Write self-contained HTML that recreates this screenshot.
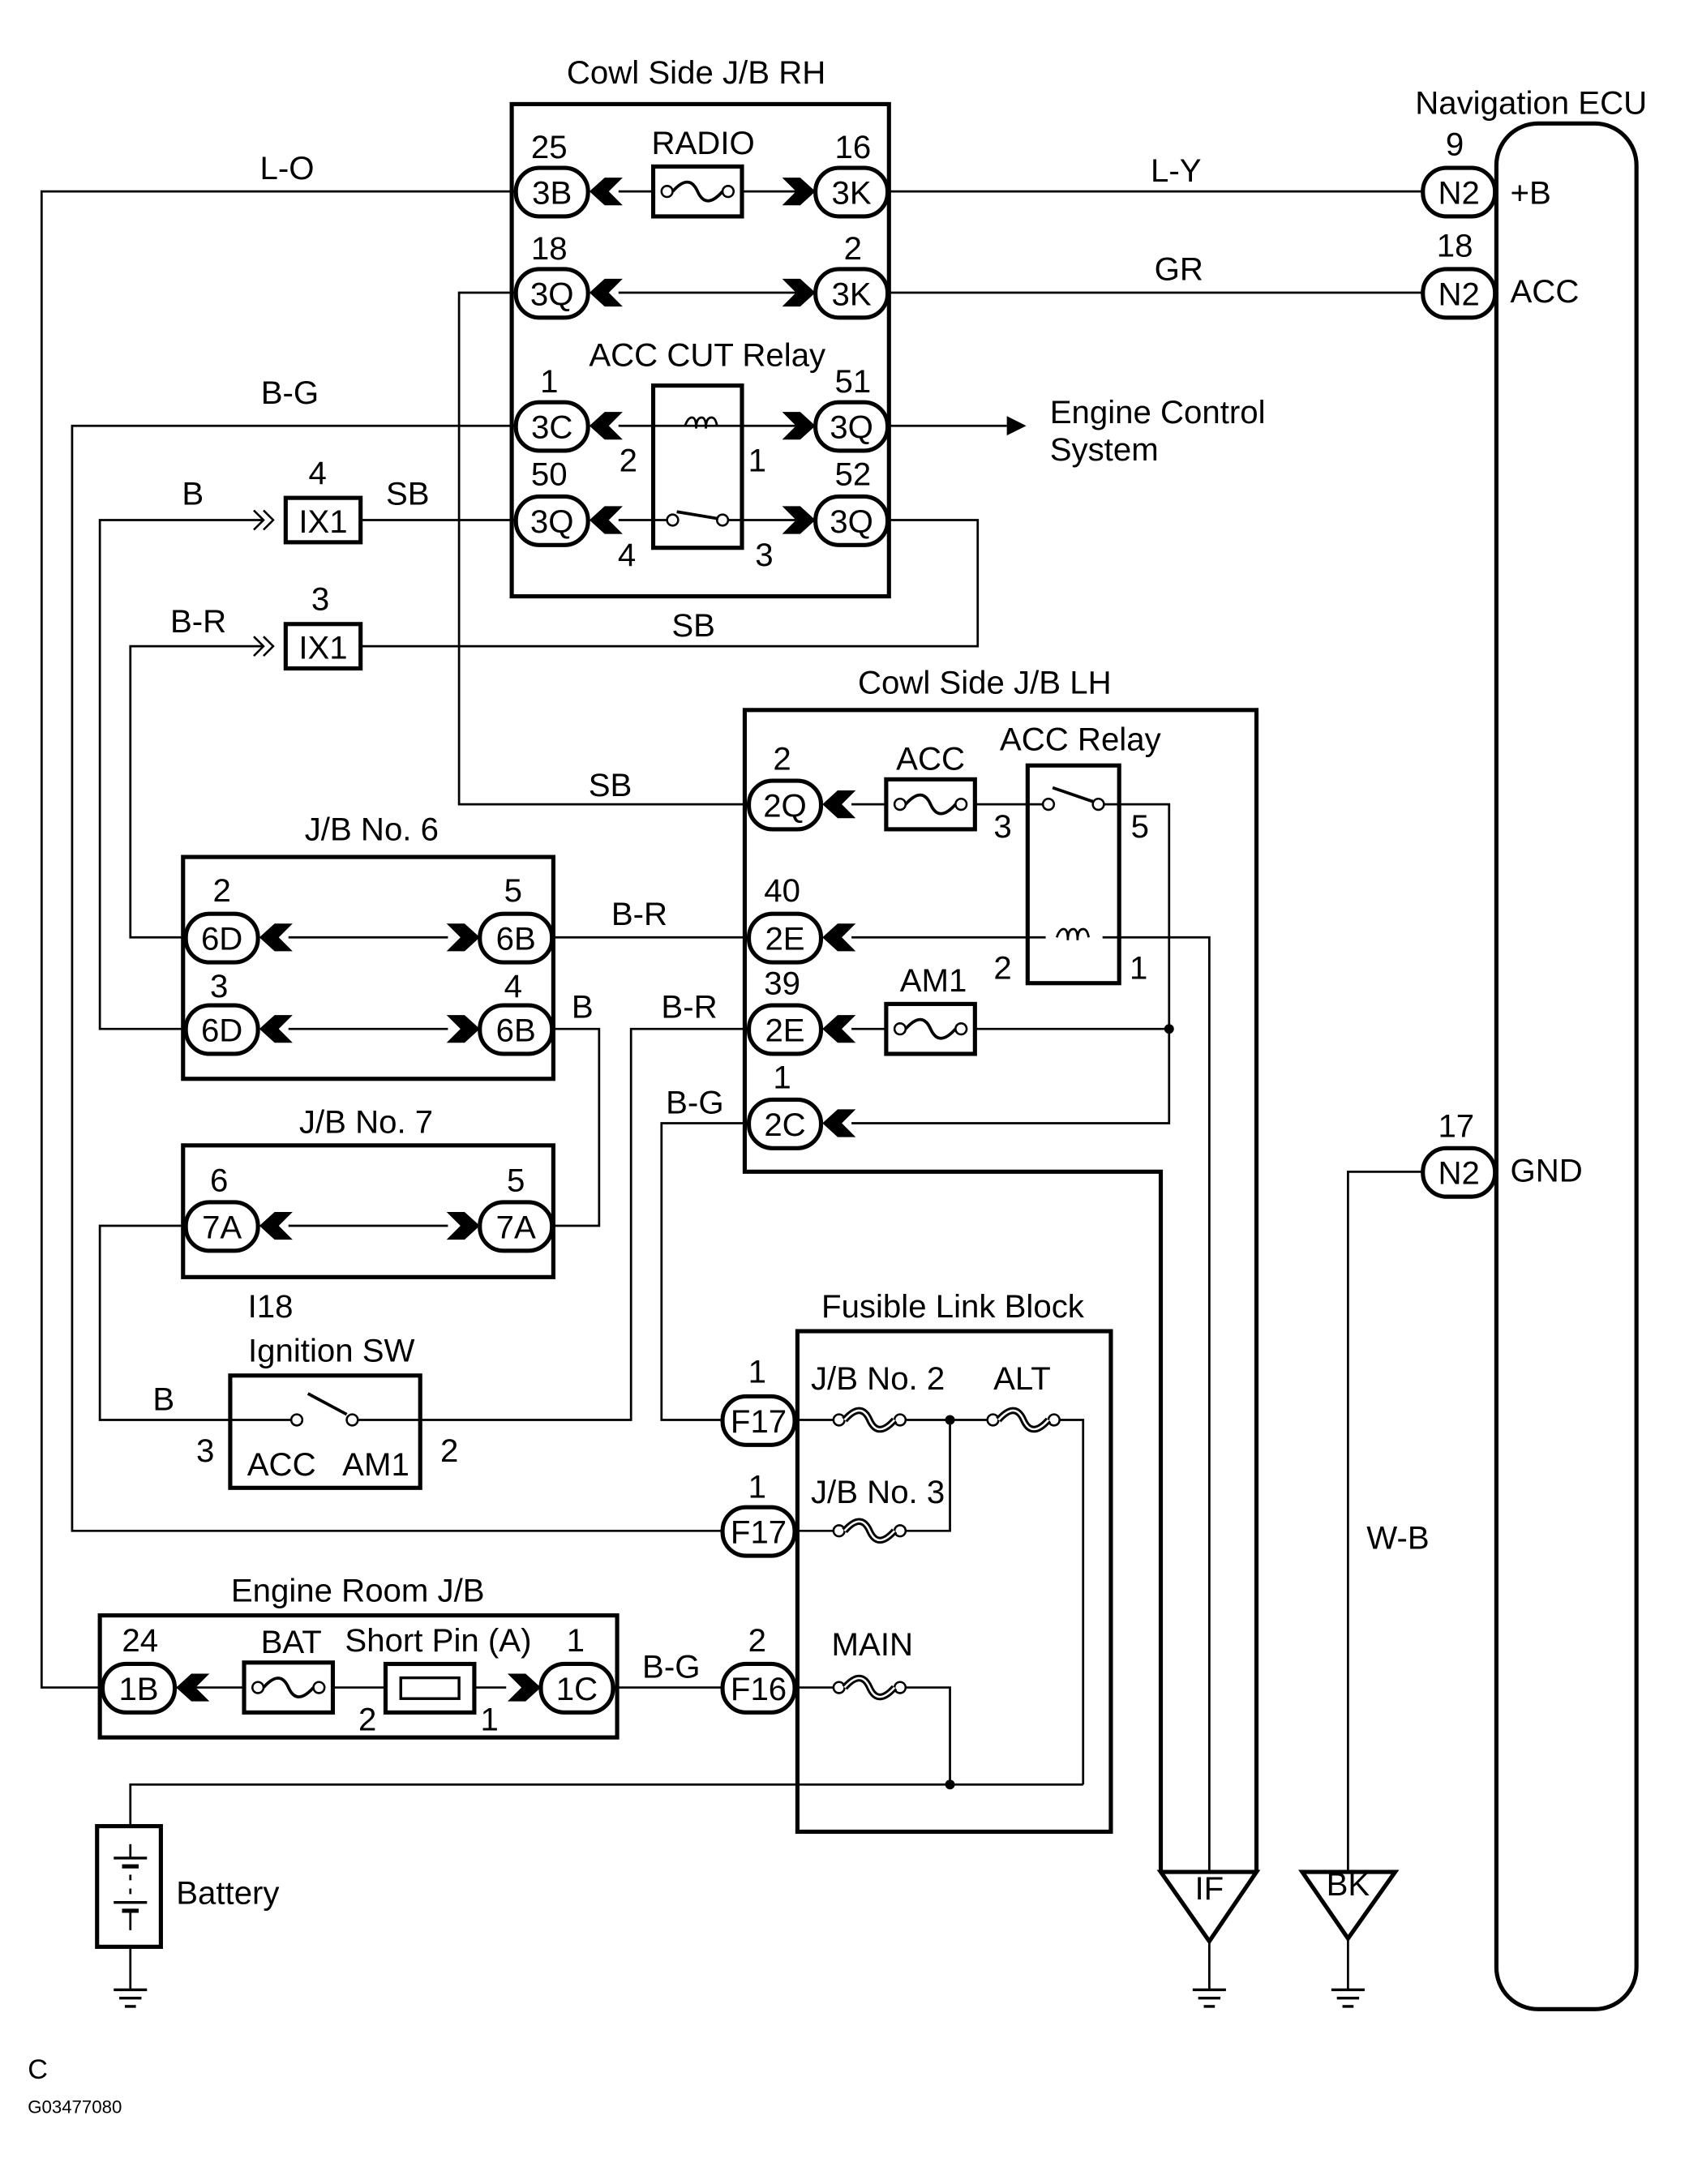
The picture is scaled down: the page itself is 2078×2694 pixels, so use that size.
<!DOCTYPE html>
<html><head><meta charset="utf-8"><style>
html,body{margin:0;padding:0;background:#fff;}
svg{display:block;}
text{font-family:"Liberation Sans",Arial,sans-serif;font-size:23.5px;fill:#000;}
.c{text-anchor:middle;}
</style></head><body>
<svg width="2078" height="2694" viewBox="0 0 1215 1575" xmlns="http://www.w3.org/2000/svg">
<defs>
<g id="cl"><polygon points="0,0 11,-10 24,-10 14,0 24,10 11,10" fill="#000"/></g>
<g id="cr"><polygon points="0,0 -11,-10 -24,-10 -14,0 -24,10 -11,10" fill="#000"/></g>
<g id="fuse"><rect x="-32" y="-18" width="64" height="36" fill="#fff" stroke="#000" stroke-width="3"/>
<circle cx="-22" cy="0" r="4" fill="#fff" stroke="#000" stroke-width="1.5"/><circle cx="22" cy="0" r="4" fill="#fff" stroke="#000" stroke-width="1.5"/>
<path d="M-18,0 C-10,-9 -4,-9 0,0 C4,9 10,9 18,0" fill="none" stroke="#000" stroke-width="2.2"/></g>
<g id="fl"><circle cx="-22" cy="0" r="4" fill="#fff" stroke="#000" stroke-width="1.5"/><circle cx="22" cy="0" r="4" fill="#fff" stroke="#000" stroke-width="1.5"/>
<path d="M-18,0 C-10,-9 -4,-9 0,0 C4,9 10,9 18,0" fill="none" stroke="#000" stroke-width="5"/><path d="M-18,0 C-10,-9 -4,-9 0,0 C4,9 10,9 18,0" fill="none" stroke="#fff" stroke-width="1.5"/></g>
<g id="gnd"><line x1="-12" y1="0" x2="12" y2="0" stroke="#000" stroke-width="2"/><line x1="-8" y1="6" x2="8" y2="6" stroke="#000" stroke-width="2"/><line x1="-4" y1="12" x2="4" y2="12" stroke="#000" stroke-width="2"/></g>
</defs>
<g fill="none" stroke="#000" stroke-width="1.6">
<path d="M372,138 H30 V1217 H75"/>
<path d="M446,138 H590"/>
<path d="M636,138 H1027"/>
<path d="M372,211 H331 V580 H540"/>
<path d="M446,211 H590"/>
<path d="M636,211 H1027"/>
<path d="M372,307 H52 V1104 H522"/>
<path d="M446,307 H590"/>
<path d="M636,307 H726"/>
<path d="M260,375 H372"/><path d="M446,375 H481"/><path d="M525,375 H590"/>
<path d="M636,375 H705 V466 H260"/>
<path d="M190,375 H72 V742 H135"/>
<path d="M190,466 H94 V676 H135"/>
<path d="M208,676 H323"/><path d="M208,742 H323"/>
<path d="M396,676 H540"/>
<path d="M396,742 H432 V884 H396"/>
<path d="M208,884 H323"/>
<path d="M135,884 H72 V1024 H210"/>
<path d="M258,1024 H455 V742 H540"/>
<path d="M540,810 H477 V1024 H522"/>
<path d="M614,580 H639"/><path d="M704,580 H752"/><path d="M796,580 H843 V810 H614"/>
<path d="M614,676 H754"/><path d="M795,676 H872 V1350"/>
<path d="M614,742 H639"/><path d="M704,742 H843"/>
<path d="M440,1217 H522"/>
<path d="M572,1024 H602"/><path d="M652,1024 H713"/><path d="M763,1024 H781 V1287"/>
<path d="M572,1104 H602"/><path d="M652,1104 H685 V1024"/>
<path d="M572,1217 H602"/><path d="M652,1217 H685 V1287"/>
<path d="M94,1317 V1287 H781"/>
<path d="M94,1404 V1435"/>
<path d="M872,1400 V1435"/>
<path d="M972,1398 V1435"/>
<path d="M972,1350 V845 H1027"/>
<path d="M126,1217 H177"/><path d="M239,1217 H278"/><path d="M342,1217 H365"/>
</g>
<g fill="none" stroke="#000" stroke-width="3">
<rect x="369" y="75" width="272" height="355"/>
<rect x="471" y="278" width="64" height="117"/>
<path d="M837,1350 V845 H537 V512 H906 V1350"/>
<rect x="741" y="552" width="66" height="157"/>
<rect x="132" y="618" width="267" height="160"/>
<rect x="132" y="826" width="267" height="95"/>
<rect x="166" y="992" width="137" height="81"/>
<rect x="575" y="960" width="226" height="361"/>
<rect x="72" y="1165" width="373" height="88"/>
<rect x="1079" y="89" width="101" height="1360" rx="30"/>
<rect x="206" y="359" width="54" height="32"/>
<rect x="206" y="450" width="54" height="32"/>
<rect x="70" y="1317" width="46" height="87"/>
<rect x="278" y="1200" width="64" height="35"/>
<polygon points="837,1350 906,1350 872,1400"/>
<polygon points="939,1350 1006,1350 972,1398"/>
</g>
<rect x="289" y="1210" width="42" height="15" fill="none" stroke="#000" stroke-width="2"/>
<use href="#fuse" x="503" y="138"/>
<use href="#fuse" x="671" y="580"/>
<use href="#fuse" x="671" y="742"/>
<use href="#fuse" x="208" y="1217"/>
<use href="#fl" x="627" y="1024"/><use href="#fl" x="738" y="1024"/>
<use href="#fl" x="627" y="1104"/><use href="#fl" x="627" y="1217"/>
<g fill="none" stroke="#000">
<path d="M494,307 q2,-6 5,-6 q3,0 3,8 q0,-8 4,-8 q3,0 3,8 q0,-8 4,-8 q3,0 4,6" stroke-width="1.6"/>
<circle cx="485" cy="375" r="4" stroke-width="1.5" fill="#fff"/><circle cx="521" cy="375" r="4" stroke-width="1.5" fill="#fff"/>
<line x1="488" y1="369" x2="518" y2="374" stroke-width="2.2"/>
<path d="M762,676 q2,-6 5,-6 q3,0 3,8 q0,-8 4,-8 q3,0 3,8 q0,-8 4,-8 q3,0 4,6" stroke-width="1.6"/>
<circle cx="756" cy="580" r="4" stroke-width="1.5" fill="#fff"/><circle cx="792" cy="580" r="4" stroke-width="1.5" fill="#fff"/>
<line x1="759" y1="568" x2="788" y2="578" stroke-width="2.2"/>
<circle cx="214" cy="1024" r="4" stroke-width="1.5" fill="#fff"/><circle cx="254" cy="1024" r="4" stroke-width="1.5" fill="#fff"/>
<line x1="222" y1="1005" x2="250" y2="1020" stroke-width="2.2"/>
<line x1="94" y1="1330" x2="94" y2="1340" stroke-width="1.6"/>
<line x1="82" y1="1340" x2="106" y2="1340" stroke-width="2"/>
<line x1="88" y1="1346" x2="100" y2="1346" stroke-width="3"/>
<line x1="94" y1="1352" x2="94" y2="1356" stroke-width="1.6"/>
<line x1="94" y1="1362" x2="94" y2="1366" stroke-width="1.6"/>
<line x1="82" y1="1372" x2="106" y2="1372" stroke-width="2"/>
<line x1="88" y1="1378" x2="100" y2="1378" stroke-width="3"/>
<line x1="94" y1="1378" x2="94" y2="1392" stroke-width="1.6"/>
<path d="M183,368 l7,7 l-7,7 M190,368 l7,7 l-7,7" stroke-width="1.5"/>
<path d="M183,459 l7,7 l-7,7 M190,459 l7,7 l-7,7" stroke-width="1.5"/>
</g>
<polygon points="726,300 726,314 740,307" fill="#000"/>
<g fill="#000"><circle cx="843" cy="742" r="3.5"/><circle cx="685" cy="1024" r="3.5"/><circle cx="685" cy="1287" r="3.5"/></g>
<use href="#gnd" x="94" y="1435"/><use href="#gnd" x="872" y="1435"/><use href="#gnd" x="972" y="1435"/>
<g fill="#fff" stroke="#000" stroke-width="3">
<rect x="372" y="121" width="52" height="35" rx="17"/>
<rect x="588" y="121" width="52" height="35" rx="17"/>
<rect x="372" y="194" width="52" height="35" rx="17"/>
<rect x="588" y="194" width="52" height="35" rx="17"/>
<rect x="372" y="290" width="52" height="35" rx="17"/>
<rect x="588" y="290" width="52" height="35" rx="17"/>
<rect x="372" y="358" width="52" height="35" rx="17"/>
<rect x="588" y="358" width="52" height="35" rx="17"/>
<rect x="540" y="563" width="52" height="35" rx="17"/>
<rect x="540" y="659" width="52" height="35" rx="17"/>
<rect x="540" y="725" width="52" height="35" rx="17"/>
<rect x="540" y="793" width="52" height="35" rx="17"/>
<rect x="134" y="659" width="52" height="35" rx="17"/>
<rect x="346" y="659" width="52" height="35" rx="17"/>
<rect x="134" y="725" width="52" height="35" rx="17"/>
<rect x="346" y="725" width="52" height="35" rx="17"/>
<rect x="134" y="867" width="52" height="35" rx="17"/>
<rect x="346" y="867" width="52" height="35" rx="17"/>
<rect x="521" y="1007" width="52" height="35" rx="17"/>
<rect x="521" y="1087" width="52" height="35" rx="17"/>
<rect x="521" y="1200" width="52" height="35" rx="17"/>
<rect x="74" y="1200" width="52" height="35" rx="17"/>
<rect x="390" y="1200" width="52" height="35" rx="17"/>
<rect x="1026" y="121" width="52" height="35" rx="17"/>
<rect x="1026" y="194" width="52" height="35" rx="17"/>
<rect x="1026" y="828" width="52" height="35" rx="17"/>
</g>
<use href="#cl" x="425" y="138"/><use href="#cr" x="588" y="138"/>
<use href="#cl" x="425" y="211"/><use href="#cr" x="588" y="211"/>
<use href="#cl" x="425" y="307"/><use href="#cr" x="588" y="307"/>
<use href="#cl" x="425" y="375"/><use href="#cr" x="588" y="375"/>
<use href="#cl" x="593" y="580"/><use href="#cl" x="593" y="676"/><use href="#cl" x="593" y="742"/><use href="#cl" x="593" y="810"/>
<use href="#cl" x="187" y="676"/><use href="#cr" x="346" y="676"/>
<use href="#cl" x="187" y="742"/><use href="#cr" x="346" y="742"/>
<use href="#cl" x="187" y="884"/><use href="#cr" x="346" y="884"/>
<use href="#cl" x="127" y="1217"/><use href="#cr" x="390" y="1217"/>
<g class="c">
<text x="398" y="147">3B</text><text x="614" y="147">3K</text>
<text x="398" y="220">3Q</text><text x="614" y="220">3K</text>
<text x="398" y="316">3C</text><text x="614" y="316">3Q</text>
<text x="398" y="384">3Q</text><text x="614" y="384">3Q</text>
<text x="566" y="589">2Q</text><text x="566" y="685">2E</text><text x="566" y="751">2E</text><text x="566" y="819">2C</text>
<text x="160" y="685">6D</text><text x="372" y="685">6B</text>
<text x="160" y="751">6D</text><text x="372" y="751">6B</text>
<text x="160" y="893">7A</text><text x="372" y="893">7A</text>
<text x="547" y="1033">F17</text><text x="547" y="1113">F17</text><text x="547" y="1226">F16</text>
<text x="100" y="1226">1B</text><text x="416" y="1226">1C</text>
<text x="1052" y="147">N2</text><text x="1052" y="220">N2</text><text x="1052" y="854">N2</text>
<text x="233" y="384">IX1</text><text x="233" y="475">IX1</text>
<text x="502" y="60">Cowl Side J/B RH</text>
<text x="396" y="114">25</text><text x="507" y="111">RADIO</text><text x="615" y="114">16</text>
<text x="396" y="187">18</text><text x="615" y="187">2</text>
<text x="510" y="264">ACC CUT Relay</text>
<text x="396" y="283">1</text><text x="615" y="283">51</text>
<text x="453" y="340">2</text><text x="546" y="340">1</text>
<text x="396" y="350">50</text><text x="615" y="350">52</text>
<text x="452" y="408">4</text><text x="551" y="408">3</text>
<text x="207" y="129">L-O</text><text x="848" y="131">L-Y</text><text x="850" y="202">GR</text>
<text x="209" y="291">B-G</text>
<text x="139" y="364">B</text><text x="229" y="349">4</text><text x="294" y="364">SB</text>
<text x="143" y="456">B-R</text><text x="231" y="440">3</text><text x="500" y="459">SB</text>
<text x="710" y="500">Cowl Side J/B LH</text>
<text x="440" y="574">SB</text>
<text x="564" y="555">2</text><text x="671" y="555">ACC</text><text x="779" y="541">ACC Relay</text>
<text x="723" y="604">3</text><text x="822" y="604">5</text>
<text x="564" y="650">40</text><text x="461" y="667">B-R</text>
<text x="723" y="706">2</text><text x="821" y="706">1</text>
<text x="564" y="717">39</text><text x="673" y="715">AM1</text><text x="497" y="734">B-R</text>
<text x="564" y="785">1</text><text x="501" y="803">B-G</text>
<text x="268" y="606">J/B No. 6</text>
<text x="160" y="650">2</text><text x="370" y="650">5</text>
<text x="158" y="719">3</text><text x="370" y="719">4</text><text x="420" y="734">B</text>
<text x="264" y="817">J/B No. 7</text>
<text x="158" y="859">6</text><text x="372" y="859">5</text>
<text x="195" y="950">I18</text><text x="239" y="982">Ignition SW</text>
<text x="118" y="1017">B</text><text x="148" y="1054">3</text><text x="324" y="1054">2</text>
<text x="203" y="1064">ACC</text><text x="271" y="1064">AM1</text>
<text x="687" y="950">Fusible Link Block</text>
<text x="546" y="997">1</text><text x="633" y="1002">J/B No. 2</text><text x="737" y="1002">ALT</text>
<text x="546" y="1080">1</text><text x="633" y="1084">J/B No. 3</text>
<text x="546" y="1191">2</text><text x="629" y="1194">MAIN</text>
<text x="258" y="1155">Engine Room J/B</text>
<text x="101" y="1191">24</text><text x="210" y="1192">BAT</text><text x="316" y="1191">Short Pin (A)</text><text x="415" y="1191">1</text>
<text x="265" y="1248">2</text><text x="353" y="1248">1</text><text x="484" y="1210">B-G</text>
<text x="872" y="1370">IF</text><text x="972" y="1367">BK</text>
<text x="1008" y="1117">W-B</text>
<text x="1104" y="82">Navigation ECU</text>
<text x="1049" y="112">9</text><text x="1049" y="185">18</text><text x="1050" y="820">17</text>
</g>
<text x="757" y="305">Engine Control</text>
<text x="757" y="332">System</text>
<text x="127" y="1373">Battery</text>
<text x="1089" y="147">+B</text><text x="1089" y="218">ACC</text><text x="1089" y="852">GND</text>
<text x="20" y="1499" style="font-size:20px">C</text>
<text x="20" y="1524" style="font-size:13px">G03477080</text>
</svg>
</body></html>
